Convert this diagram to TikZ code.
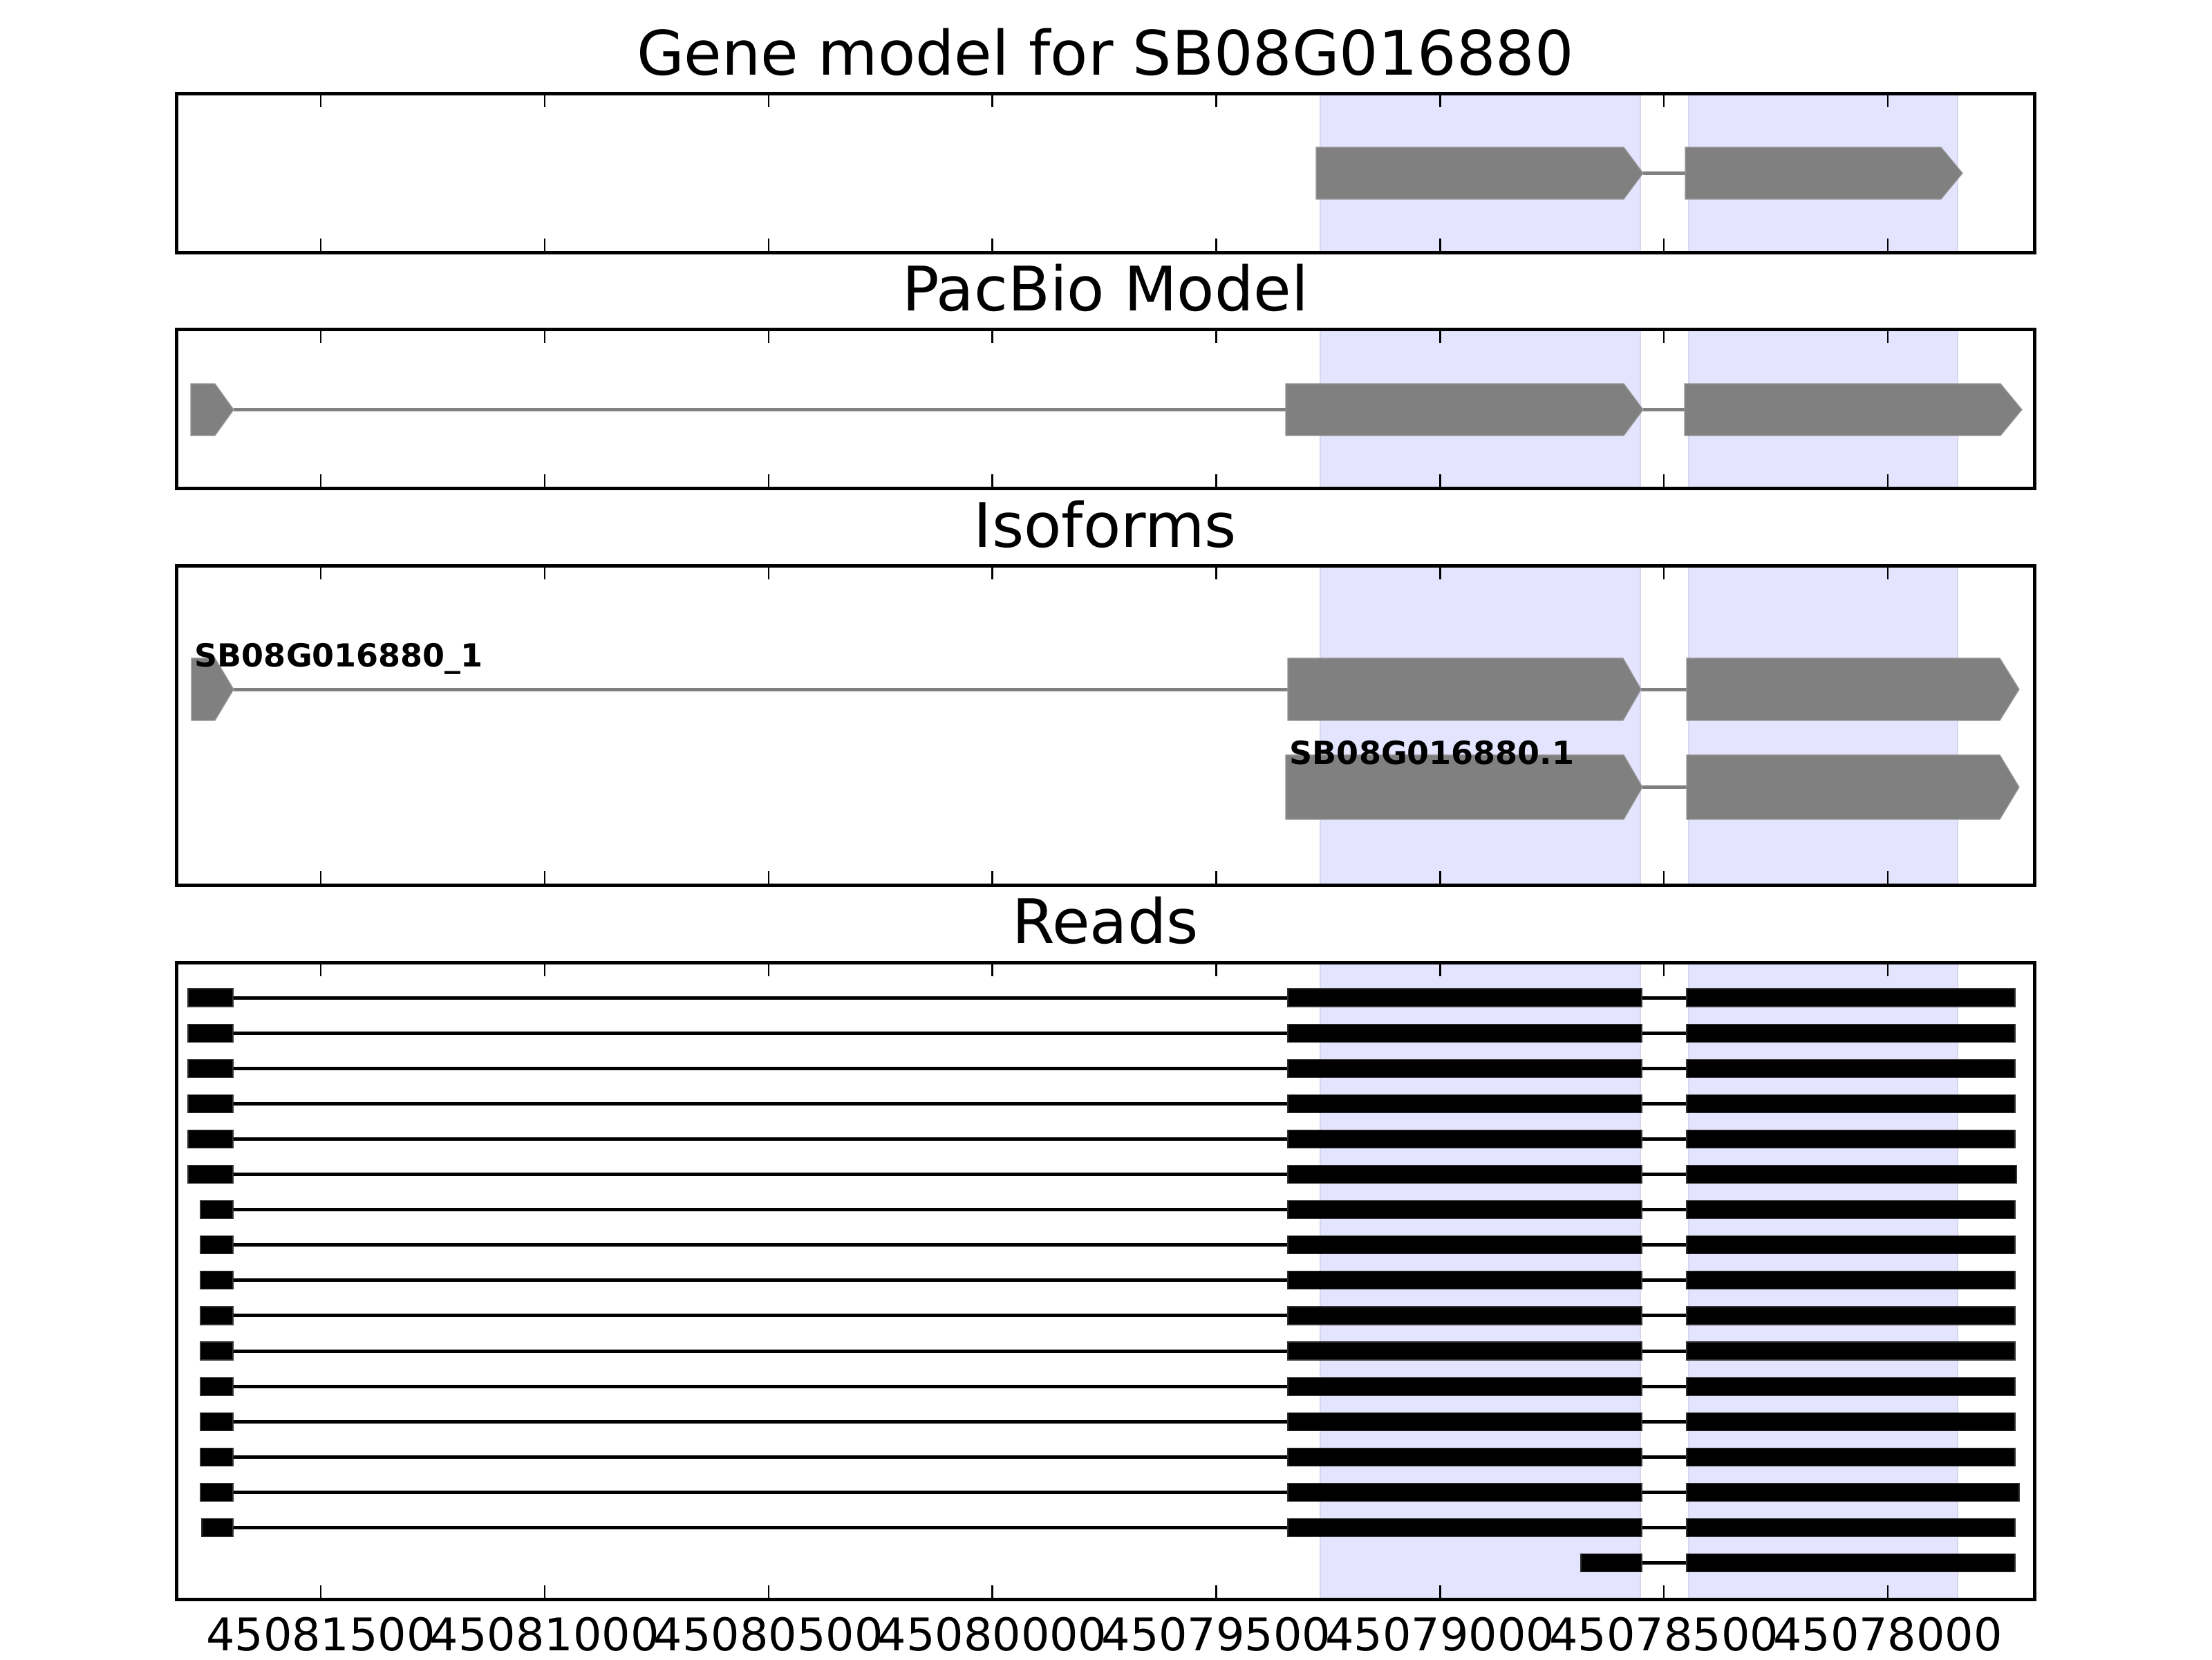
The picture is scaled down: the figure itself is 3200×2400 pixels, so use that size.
\documentclass[tikz,border=0pt]{standalone}
\usepackage{fontspec}
\setmainfont{DejaVu Sans}
\definecolor{spanfill}{RGB}{228,228,254}
\definecolor{spanedge}{RGB}{214,214,240}
\definecolor{exongray}{RGB}{128,128,128}
\definecolor{exonedge}{RGB}{152,152,152}
\tikzset{
  frame/.style={line width=1.25pt, draw=black},
  tickmark/.style={line width=0.6pt, black},
  spanbox/.style={fill=spanfill, draw=spanedge, line width=0.4pt},
  exonshape/.style={fill=exongray, draw=exonedge, line width=0.3pt},
  geneline/.style={draw=exongray, line width=1.25pt},
  readline/.style={draw=black, line width=1.25pt},
  readbox/.style={fill=black, draw=black!80, line width=0.3pt},
  titletext/.style={anchor=base, inner sep=0pt, font=\fontsize{22.2}{26}\selectfont},
  ticklabel/.style={anchor=base, inner sep=0pt, font=\fontsize{16.3}{19}\selectfont},
  isolabel/.style={anchor=base west, inner sep=0pt, font=\fontsize{11.5}{14}\selectfont\bfseries},
}
% exon arrow: left, shoulder, tip, top, bottom
\newcommand\exonarrow[5]{%
  \filldraw[exonshape] (#1,#4) -- (#2,#4) -- (#3,{(#4+#5)/2}) -- (#2,#5) -- (#1,#5) -- cycle;}
% panel: top, bottom
\newcommand\panelspans[2]{%
  \filldraw[spanbox] (1910,#1) rectangle (2373,#2);
  \filldraw[spanbox] (2443,#1) rectangle (2832,#2);}
\newcommand\panelframe[2]{%
  \foreach \k in {0,...,7} {
    \draw[tickmark] ({464+323.86*\k},#1) -- ++(0,20);
    \draw[tickmark] ({464+323.86*\k},#2) -- ++(0,-20);
  }
  \draw[frame] (255,#1) rectangle (2943,#2);}
\begin{document}
\begin{tikzpicture}[x=0.25pt,y=-0.25pt]
\useasboundingbox (0,0) rectangle (3200,2400);
\fill[white] (0,0) rectangle (3200,2400);

% ---------- Titles ----------
\node[titletext] (t1) at (1599,108) {Gene model for SB08G016880};
\node[titletext] (t2) at (1599,449) {PacBio Model};
\node[titletext] (t3) at (1599,791) {Isoforms};
\node[titletext] (t4) at (1599,1364) {Reads};

% ---------- Panel 1: gene model ----------
\panelspans{135}{365}
\draw[geneline] (2377,250.5) -- (2438,250.5);
\exonarrow{1904}{2349}{2377}{213}{288}
\exonarrow{2438}{2808}{2839}{213}{288}
\panelframe{135}{365}

% ---------- Panel 2: PacBio model ----------
\panelspans{476}{706}
\draw[geneline] (338,592.5) -- (1860,592.5);
\draw[geneline] (2377,592.5) -- (2437,592.5);
\exonarrow{276}{311}{338}{555}{630}
\exonarrow{1860}{2349}{2377}{555}{630}
\exonarrow{2437}{2894}{2925}{555}{630}
\panelframe{476}{706}

% ---------- Panel 3: isoforms ----------
\panelspans{818}{1280}
\draw[geneline] (338,997) -- (1863,997);
\draw[geneline] (2374,997) -- (2440,997);
\exonarrow{277}{311}{338}{952}{1042}
\exonarrow{1863}{2348}{2374}{952}{1042}
\exonarrow{2440}{2893}{2921}{952}{1042}
\node[isolabel] (i1) at (281,964) {SB08G016880\_1};
\draw[geneline] (2376,1138.5) -- (2440,1138.5);
\exonarrow{1860}{2349}{2376}{1092}{1185}
\exonarrow{2440}{2893}{2921}{1092}{1185}
\node[isolabel] (i2) at (1865,1105) {SB08G016880.1};
\panelframe{818}{1280}

% ---------- Panel 4: reads ----------
\panelspans{1392}{2313}
\foreach \k/\a/\b in {0/272/2915,1/272/2915,2/272/2915,3/272/2915,4/272/2915,5/272/2917,
  6/290/2915,7/290/2915,8/290/2915,9/290/2915,10/290/2915,11/290/2915,12/290/2915,
  13/290/2915,14/290/2921,15/292/2915} {
  \pgfmathsetmacro\yy{1443+51.1*\k}
  \draw[readline] (\a,\yy) -- (2440,\yy);
  \filldraw[readbox] (\a,\yy-13) rectangle (337,\yy+13);
  \filldraw[readbox] (1863,\yy-13) rectangle (2375,\yy+13);
  \filldraw[readbox] (2440,\yy-13) rectangle (\b,\yy+13);
}
\pgfmathsetmacro\yy{1443+51.1*16}
\draw[readline] (2375,\yy) -- (2440,\yy);
\filldraw[readbox] (2287,\yy-13) rectangle (2375,\yy+13);
\filldraw[readbox] (2440,\yy-13) rectangle (2915,\yy+13);
\panelframe{1392}{2313}

% ---------- Tick labels ----------
\foreach \k/\lab in {0/45081500,1/45081000,2/45080500,3/45080000,4/45079500,5/45079000,6/45078500,7/45078000} {
  \node[ticklabel] (l\k) at ({464+323.86*\k},2387) {\lab};
}
\end{tikzpicture}
\end{document}
